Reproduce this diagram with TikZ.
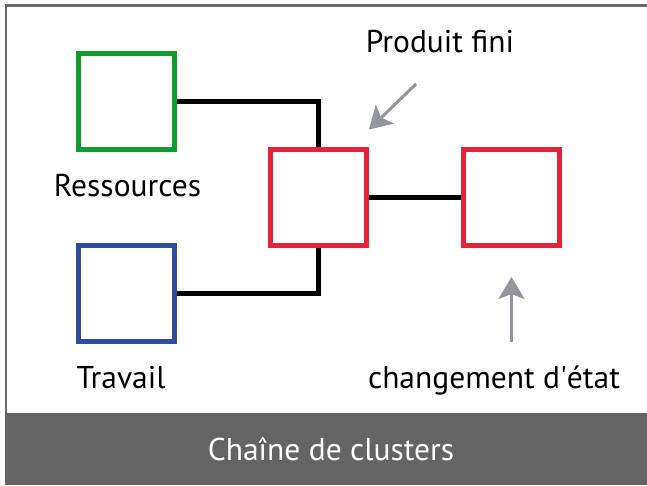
\documentclass[tikz,border=0pt]{standalone}
\usepackage{fontspec}
\setmainfont{PT Sans}
\usetikzlibrary{arrows.meta}
\definecolor{cgreen}{RGB}{18,155,48}
\definecolor{cblue}{RGB}{50,75,155}
\definecolor{cred}{RGB}{228,34,58}
\definecolor{carrow}{RGB}{148,148,156}
\definecolor{cband}{RGB}{100,100,100}
\definecolor{cframe}{RGB}{106,106,106}
\begin{document}
\begin{tikzpicture}[x=1pt,y=-1pt,
  box/.style={draw,line width=5pt,minimum size=96pt,inner sep=0pt,fill=white},
  link/.style={line width=5pt,black},
  lbl/.style={font=\fontsize{31.5}{38}\selectfont,anchor=base,inner sep=0pt,text=black},
  note/.style={line width=3pt,carrow,-{Stealth[length=22pt,width=26pt,inset=5pt]}}]
\useasboundingbox (0,0) rectangle (647,485);
\fill[white] (0,0) rectangle (647,485);
\fill[cframe] (5,4) rectangle (647,6.6);
\fill[cframe] (5,4) rectangle (7.2,485);
\fill[cband] (5,413) rectangle (647,485);
% boxes
\node[box,draw=cgreen] (res) at (126.5,101.5) {};
\node[box,draw=cblue] (trav) at (126.5,293.5) {};
\node[box,draw=cred] (prod) at (318.5,197.5) {};
\node[box,draw=cred] (etat) at (511,197.5) {};
% connectors
\draw[link] (res.east) -| (prod.north);
\draw[link] (trav.east) -| (prod.south);
\draw[link] (prod.east) -- (etat.west);
% labels
\node[lbl] (lres) at (127.5,196) {Ressources};
\node[lbl] (ltrav) at (121,388) {Travail};
\node[lbl] (lprod) at (440,52) {Produit fini};
\node[lbl] (letat) at (494,388) {changement d\textquotesingle état};
\node[lbl,text=white] (title) at (331,460) {Chaîne de clusters};
% gray arrows
\coordinate (a1s) at (416,84);
\coordinate (a1e) at (369,129.5);
\coordinate (a2s) at (511.5,342);
\coordinate (a2e) at (511.5,277);
\draw[note] (a1s) -- (a1e);
\draw[note] (a2s) -- (a2e);
\end{tikzpicture}
\end{document}
